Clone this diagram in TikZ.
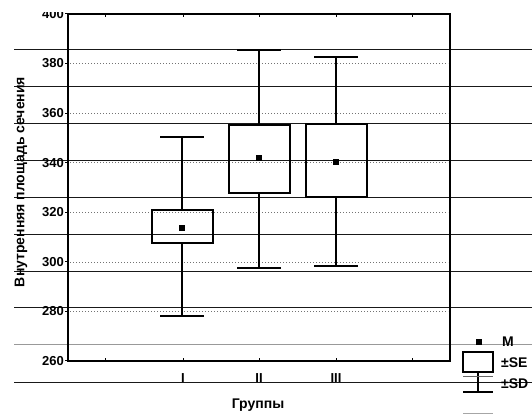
\documentclass[tikz,border=0pt]{standalone}
\usepackage{fontspec}
\setmainfont{Liberation Sans}
\begin{document}
\begin{tikzpicture}[x=1pt,y=-1pt,
  paper/.style={black!90,line width=0.9pt},
  paperlight/.style={black!40,line width=0.9pt},
  gridline/.style={black!55,line width=0.6pt,dash pattern=on 1.2pt off 1.8pt},
  frame/.style={black,line width=2pt},
  whisk/.style={black,line width=1.5pt},
  capline/.style={black,line width=2.6pt},
  sebox/.style={draw=black,line width=2pt},
  meanmk/.style={fill=black,draw=none,rectangle,minimum size=6pt,inner sep=0pt},
  ticklab/.style={font=\bfseries\fontsize{13}{14}\selectfont,inner sep=0pt},
  axtitle/.style={font=\bfseries\fontsize{14}{15}\selectfont,inner sep=0pt},
  legtext/.style={font=\bfseries\fontsize{14}{15}\selectfont,inner sep=0pt,anchor=west}]
\useasboundingbox (0,0) rectangle (532,414);
\fill[white] (0,0) rectangle (532,414);
% notebook ruling
\foreach \yy in {49,86,123,160,197,234,271,307,382}
  \draw[paper] (14,\yy) -- (532,\yy);
\draw[paperlight] (14,344) -- (532,344);
\draw[black!35,line width=0.9pt] (463,413) -- (493,413);
% plot area in data units
\begin{scope}[y=2.4786pt,yshift=-1005.4pt]
  \foreach \v in {280,300,...,380}
    \draw[gridline] (70,\v) -- (448,\v);
  \foreach \v in {260,280,...,400}{
    \draw[black,line width=1pt] (65,\v) -- (68,\v);
    \node[ticklab,anchor=east] at (64,\v) {\v};
  }
  \draw[frame] (68,400) rectangle (450,260);
  \foreach \xx in {105,183,259,336,412}{
    \draw[black,line width=1pt] (\xx,400) -- (\xx,398.8);
    \draw[black,line width=1pt] (\xx,260) -- (\xx,261.2);
  }
  \foreach \xx/\lo/\hi/\qb/\qt/\mn/\nm in {182/278.2/350.3/307.6/320.9/313.7/I,259/297.5/385.5/327.8/355.2/341.9/II,336/298.3/382.6/326.2/355.6/340.3/III}{
    \coordinate (lo\nm) at (\xx,\lo);
    \coordinate (hi\nm) at (\xx,\hi);
    \node[draw=none,inner sep=0pt,minimum size=0pt] (bb\nm) at (\xx,\qb) {};
    \node[draw=none,inner sep=0pt,minimum size=0pt] (bt\nm) at (\xx,\qt) {};
    \draw[whisk] (lo\nm) -- (bb\nm.center);
    \draw[whisk] (bt\nm.center) -- (hi\nm);
    \draw[capline] ([xshift=-22pt]lo\nm) -- ([xshift=22pt]lo\nm);
    \draw[capline] ([xshift=-22pt]hi\nm) -- ([xshift=22pt]hi\nm);
    \draw[sebox] ([xshift=-30.5pt]bb\nm.center) rectangle ([xshift=30.5pt]bt\nm.center);
    \node[meanmk] (m\nm) at (\xx,\mn) {};
  }
\end{scope}
% cut-off top of "400"
\fill[white] (34,0) rectangle (66,12.3);
% x tick labels and titles
\node[ticklab] (gI) at (183,378) {I};
\node[ticklab] (gII) at (259,378) {II};
\node[ticklab] (gIII) at (336,378) {III};
\node[axtitle] (xt) at (258,405) {Группы};
\node[axtitle,rotate=90] (yt) at (21,182) {Внутренняя площадь сечения};
% legend
\node[meanmk] (lm) at (479,342) {};
\node[legtext] (lmt) at (502,342) {M};
\draw[sebox] (463,352) rectangle (493,372);
\node[legtext] (lset) at (501,363) {±SE};
\coordinate (sdt) at (478,372);
\coordinate (sdb) at (478,392);
\draw[whisk] (sdt) -- (sdb);
\draw[black!60,line width=0.6pt] (463,376) -- (493,376);
\draw[capline] ([xshift=-15pt]sdb) -- ([xshift=15pt]sdb);
\node[legtext] (lsdt) at (501,384) {±SD};
\end{tikzpicture}
\end{document}
